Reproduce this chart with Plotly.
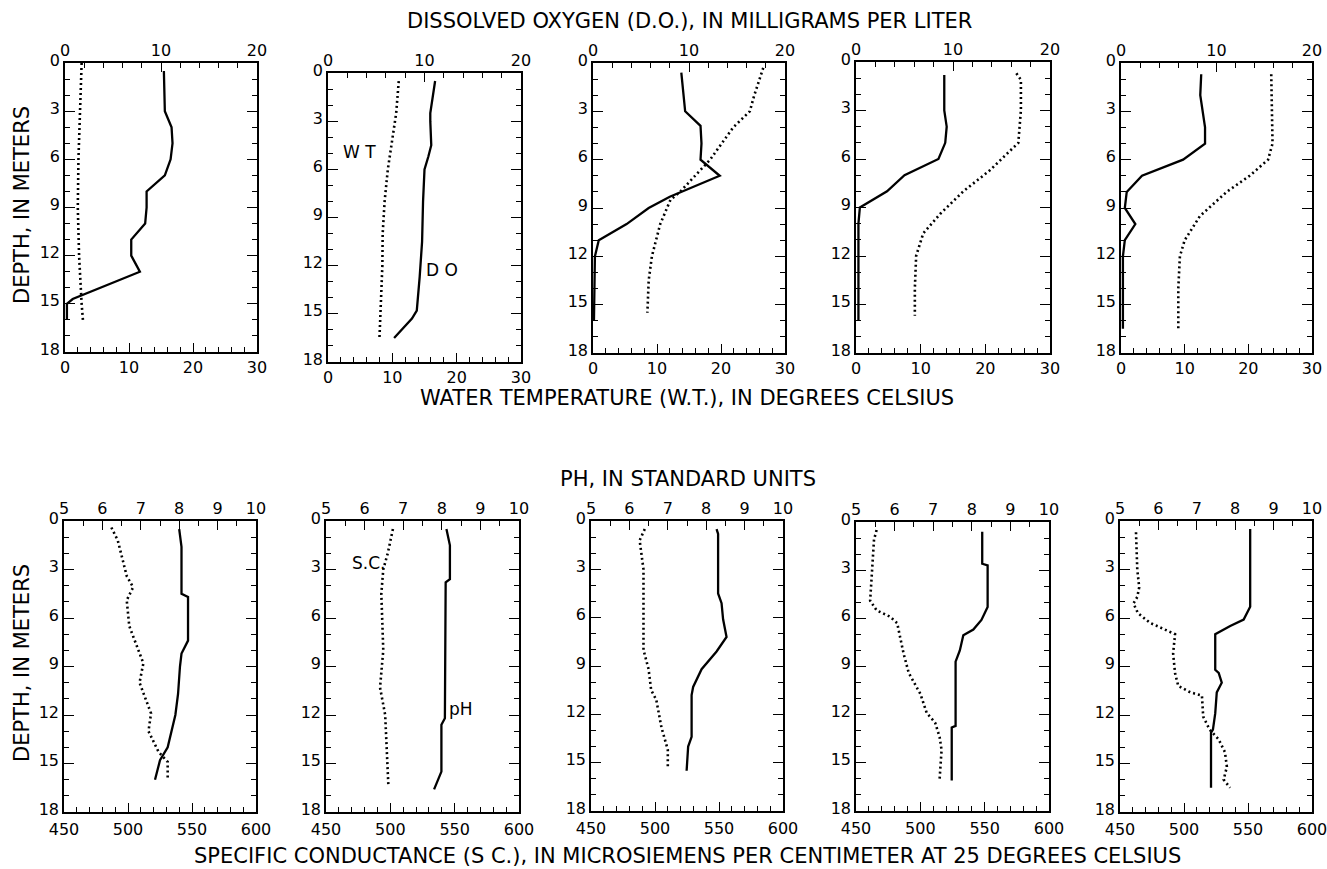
import plotly.graph_objects as go

W, H = 1327, 869

# ---------------- data ----------------
# Top row: dissolved oxygen (mg/L, top axis) and water temperature (deg C, bottom axis)
do1_depth = [0.5, 3, 4, 5, 6, 7, 8, 9, 10, 11, 12, 13, 14.7, 15, 16]
do1_val = [10.3, 10.4, 11.1, 11.2, 11.0, 10.4, 8.5, 8.5, 8.35, 6.9, 6.9, 7.8, 0.8, 0.2, 0.2]
wt1_depth = [0, 3, 6, 9, 12, 15, 16]
wt1_val = [2.6, 2.3, 2.1, 2.0, 2.2, 2.6, 2.8]

do2_depth = [0.5, 2.5, 3.0, 4.5, 5.2, 6, 8, 10.5, 12.7, 14.8, 15.3, 16.5]
do2_val = [11.1, 10.6, 10.6, 10.7, 10.4, 10.0, 9.85, 9.75, 9.5, 9.2, 8.7, 6.85]
wt2_depth = [0.5, 2.5, 6, 8, 10, 12, 16.5]
wt2_val = [11.0, 10.6, 9.3, 8.8, 8.5, 8.45, 8.0]

do3_depth = [0.6, 3, 3.9, 5, 6, 7, 8.3, 9, 10, 11, 12, 16]
do3_val = [9.2, 9.6, 11.2, 11.3, 11.2, 13.2, 8.0, 5.8, 3.5, 0.6, 0.2, 0.1]
wt3_depth = [0.3, 2, 3, 4, 6, 8, 8.5, 10, 12, 13.5, 15.5]
wt3_val = [26.6, 25.2, 24.5, 21.9, 18.3, 13.6, 12.1, 10.5, 9.2, 8.7, 8.5]

do4_depth = [0.8, 3, 4, 5, 6, 7, 8, 9, 10, 16]
do4_val = [9.1, 9.1, 9.35, 9.2, 8.5, 5.0, 3.2, 0.4, 0.25, 0.25]
wt4_depth = [0.7, 1.1, 3, 5, 6.7, 8, 9.4, 10.6, 12, 14, 15.7]
wt4_val = [24.8, 25.5, 25.5, 25.1, 20.7, 16.6, 13.0, 10.4, 9.3, 9.1, 9.1]

do5_depth = [0.7, 2, 4, 5, 6, 7, 8, 9, 10, 11, 12, 16.5]
do5_val = [8.4, 8.3, 8.8, 8.8, 6.5, 2.2, 0.6, 0.4, 1.5, 0.4, 0.2, 0.2]
wt5_depth = [0.7, 5, 6, 7, 8, 9.5, 11, 12, 14, 16.6]
wt5_val = [23.6, 23.8, 23.1, 20.2, 16.6, 12.4, 10.0, 9.25, 9.0, 9.0]

# Bottom row: pH (standard units, top axis) and specific conductance (uS/cm, bottom axis)
ph1_depth = [0.5, 1.6, 4.5, 4.7, 7.4, 8.2, 9, 10.7, 12, 14, 14.8, 16]
ph1_val = [8.0, 8.06, 8.06, 8.23, 8.23, 8.06, 8.02, 7.97, 7.9, 7.7, 7.5, 7.37]
sc1_depth = [0.4, 1.2, 3.4, 4.1, 4.9, 6.5, 8.8, 10, 11.9, 13, 14.3, 14.9, 16]
sc1_val = [487, 492, 499, 504, 499, 501, 512, 509, 518, 516, 524, 531, 531]

ph2_depth = [0.5, 1.5, 3.6, 3.8, 12.2, 12.6, 15.5, 16, 16.6]
ph2_val = [8.12, 8.21, 8.21, 8.1, 8.08, 7.99, 7.99, 7.9, 7.8]
sc2_depth = [0.5, 2, 3, 4.5, 8, 10.3, 12, 14, 16.4]
sc2_val = [502, 498, 494.5, 493, 494.5, 492, 496, 497, 498.5]

ph3_depth = [0.5, 0.8, 4.5, 5.1, 6.1, 7.2, 8.1, 9.2, 10.3, 10.8, 13.4, 14, 15.5]
ph3_val = [8.27, 8.31, 8.31, 8.4, 8.44, 8.53, 8.27, 7.88, 7.66, 7.62, 7.62, 7.53, 7.49]
sc3_depth = [0.5, 1.2, 3, 8, 9.2, 10.5, 11.1, 12.8, 14.2, 15.3]
sc3_val = [492, 488, 491, 491, 495, 497, 501, 505, 510, 510]

ph4_depth = [0.6, 2.6, 2.7, 5.3, 6.1, 6.7, 7.05, 8, 8.7, 12.7, 12.8, 16.1]
ph4_val = [8.27, 8.27, 8.41, 8.41, 8.25, 8.04, 7.78, 7.69, 7.58, 7.58, 7.48, 7.48]
sc4_depth = [0.5, 1.1, 3, 4.9, 5.5, 5.9, 6.3, 8.2, 9.4, 10.7, 11.9, 12.5, 13.4, 14.2, 16]
sc4_val = [466, 464, 462.5, 461, 466, 476.5, 482, 487, 491, 500, 505, 511.5, 515, 516.5, 515]

ph5_depth = [0.5, 5.3, 6.1, 6.5, 7.0, 9.2, 9.4, 10, 10.6, 11.9, 12.9, 13.1, 16.5]
ph5_val = [8.39, 8.39, 8.22, 7.87, 7.48, 7.48, 7.57, 7.65, 7.52, 7.48, 7.42, 7.37, 7.37]
sc5_depth = [0.7, 3, 4.1, 4.7, 5.1, 5.7, 6.3, 6.7, 7.0, 8.2, 9.4, 10.2, 10.6, 10.8, 12.1,
             12.9, 13.5, 14.3, 15.2, 16, 16.5]
sc5_val = [462.5, 463.5, 465, 463.5, 460.5, 464, 473.5, 484, 493, 491.5, 493, 495.5, 505,
           514, 515, 520, 527, 532, 533.5, 531, 536]

top_solid = [(do1_val, do1_depth), (do2_val, do2_depth), (do3_val, do3_depth),
             (do4_val, do4_depth), (do5_val, do5_depth)]
top_dot = [(wt1_val, wt1_depth), (wt2_val, wt2_depth), (wt3_val, wt3_depth),
           (wt4_val, wt4_depth), (wt5_val, wt5_depth)]
bot_solid = [(ph1_val, ph1_depth), (ph2_val, ph2_depth), (ph3_val, ph3_depth),
             (ph4_val, ph4_depth), (ph5_val, ph5_depth)]
bot_dot = [(sc1_val, sc1_depth), (sc2_val, sc2_depth), (sc3_val, sc3_depth),
           (sc4_val, sc4_depth), (sc5_val, sc5_depth)]

# ---------------- layout (pixel boxes of the panels) ----------------
boxes = [
    (65, 257, 63, 352), (328, 521, 73, 362), (593, 785, 63, 353),
    (856, 1050, 62, 353), (1121, 1312, 63, 353),
    (64, 256, 521, 812), (326, 519, 521, 812), (591, 783, 521, 811),
    (856, 1049, 522, 811), (1120, 1312, 521, 812),
]

FONT = "DejaVu Sans"
TICKFONT = dict(family=FONT, size=16, color="black")
LINEW = 1.6

fig = go.Figure()
layout = dict(
    width=W, height=H, margin=dict(l=0, r=0, t=0, b=0, autoexpand=False),
    paper_bgcolor="white", plot_bgcolor="white", showlegend=False,
    font=dict(family=FONT, color="black"),
)

solid_line = dict(color="black", width=2.3)
dot_line = dict(color="black", width=2.6, dash="2px,3px")

for i, (x0, x1, y0, y1) in enumerate(boxes):
    xb = 2 * i + 1
    xt = 2 * i + 2
    yi = i + 1
    xdom = [x0 / W, x1 / W]
    ydom = [1 - y1 / H, 1 - y0 / H]
    ya = f"y{yi}" if yi > 1 else "y"
    top_row = i < 5
    if top_row:
        bot_range, bot_dtick, bot_minor = [0, 30], 10, 2
        top_range, top_dtick, top_minor = [0, 20], 10, 2
        bot_standoff = 0
        sx, sy = top_solid[i]
        dx, dy = top_dot[i]
    else:
        bot_range, bot_dtick, bot_minor = [450, 600], 50, 10
        top_range, top_dtick, top_minor = [5, 10], 1, 0.5
        bot_standoff = 2
        sx, sy = bot_solid[i - 5]
        dx, dy = bot_dot[i - 5]

    common = dict(showgrid=False, zeroline=False, showline=True, linecolor="black",
                  linewidth=LINEW, tickcolor="black", tickwidth=1.4, tickfont=TICKFONT,
                  fixedrange=True, ticks="inside", ticklabeloverflow="allow")
    layout[f"xaxis{xb}"] = dict(
        domain=xdom, anchor=ya, range=bot_range, side="bottom",
        ticklen=9, dtick=bot_dtick, tick0=bot_range[0], ticklabelstandoff=bot_standoff,
        minor=dict(dtick=bot_minor, ticks="inside", ticklen=5, tickcolor="black", tickwidth=1.3),
        **common,
    )
    layout[f"xaxis{xt}"] = dict(
        domain=xdom, anchor=ya, overlaying=f"x{xb}", range=top_range, side="top",
        ticklen=9, dtick=top_dtick, tick0=top_range[0], ticklabelstandoff=-1,
        minor=dict(dtick=top_minor, ticks="inside", ticklen=5, tickcolor="black", tickwidth=1.3),
        **common,
    )
    layout[f"yaxis{yi}" if yi > 1 else "yaxis"] = dict(
        domain=ydom, anchor=f"x{xb}", range=[18, 0],
        mirror="ticks", ticklen=10, dtick=3, tick0=0, ticklabelstandoff=0,
        ticklabelshift=3,
        minor=dict(dtick=1, ticks="inside", ticklen=5, tickcolor="black", tickwidth=1.3),
        **common,
    )

    fig.add_trace(go.Scatter(x=dx, y=dy, xaxis=f"x{xb}", yaxis=ya, mode="lines",
                             line=dot_line, hoverinfo="skip"))
    fig.add_trace(go.Scatter(x=sx, y=sy, xaxis=f"x{xt}", yaxis=ya, mode="lines",
                             line=solid_line, hoverinfo="skip"))

TITLEFONT = dict(family=FONT, size=21, color="black")
LABELFONT = dict(family=FONT, size=17, color="black")
ann = []


def paper_text(text, px, py, angle=0):
    ann.append(dict(text=text, x=px / W, y=1 - py / H, xref="paper", yref="paper",
                    showarrow=False, xanchor="center", yanchor="middle",
                    font=TITLEFONT, textangle=angle))


paper_text("DISSOLVED OXYGEN (D.O.), IN MILLIGRAMS PER LITER", 689, 21)
paper_text("WATER TEMPERATURE (W.T.), IN DEGREES CELSIUS", 687, 398)
paper_text("PH, IN STANDARD UNITS", 688, 479)
paper_text("SPECIFIC CONDUCTANCE (S C.), IN MICROSIEMENS PER CENTIMETER AT 25 DEGREES CELSIUS", 687, 856)
paper_text("DEPTH, IN METERS", 22, 205, -90)
paper_text("DEPTH, IN METERS", 22, 663, -90)

# in-panel labels
ann.append(dict(text="W T", x=4.9, y=4.9, xref="x3", yref="y2", showarrow=False, font=LABELFONT))
ann.append(dict(text="D O", x=11.8, y=12.3, xref="x4", yref="y2", showarrow=False, font=LABELFONT))
ann.append(dict(text="S.C.", x=482.8, y=2.6, xref="x13", yref="y7", showarrow=False, font=LABELFONT))
ann.append(dict(text="pH", x=8.5, y=11.6, xref="x14", yref="y7", showarrow=False, font=LABELFONT))

layout["annotations"] = ann
fig.update_layout(**layout)
fig.write_html("out.html", config={"displayModeBar": False},
               post_script="document.body.style.margin='0';document.body.style.padding='0';")
